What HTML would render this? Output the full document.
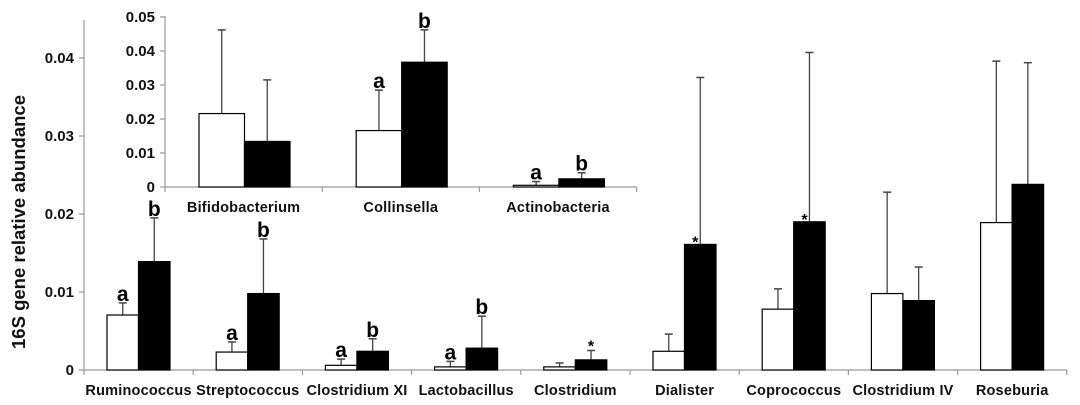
<!DOCTYPE html>
<html><head><meta charset="utf-8"><style>
html,body{margin:0;padding:0;background:#fff;}
svg{display:block;font-family:"Liberation Sans",Arial,sans-serif;font-weight:bold;}
</style></head><body>
<svg id="c" width="1080" height="405" viewBox="0 0 1080 405"></svg>
<script>
const mainCats=["Ruminococcus","Streptococcus","Clostridium XI","Lactobacillus","Clostridium","Dialister","Coprococcus","Clostridium IV","Roseburia"];
const mainWhite=[0.00705,0.0023,0.0006,0.0004,0.0004,0.0024,0.0078,0.0098,0.0189];
const mainWhiteErr=[0.0086,0.0036,0.0014,0.0011,0.0009,0.0046,0.0104,0.0228,0.0396];
const mainBlack=[0.0139,0.0098,0.0024,0.0028,0.0013,0.0161,0.019,0.0089,0.0238];
const mainBlackErr=[0.0195,0.0168,0.004,0.0069,0.0025,0.0375,0.0407,0.0132,0.0394];
const mainWhiteMark=["a","a","a","a","","","","",""];
const mainBlackMark=["b","b","b","b","*","*","*","",""];
const mainMarkAtBar=[false,false,false,false,false,true,true,false,false];
const mainTicks=[0,0.01,0.02,0.03,0.04];
const mainTickLabels=["0","0.01","0.02","0.03","0.04"];
const inCats=["Bifidobacterium","Collinsella","Actinobacteria"];
const inWhite=[0.0216,0.0166,0.0005];
const inWhiteErr=[0.0462,0.0285,0.0016];
const inBlack=[0.0134,0.0367,0.0024];
const inBlackErr=[0.0315,0.0462,0.0042];
const inWhiteMark=["","a","a"];
const inBlackMark=["","b","b"];
const inMarkAtBar=[false,false,false];
const inTicks=[0,0.01,0.02,0.03,0.04,0.05];
const inTickLabels=["0","0.01","0.02","0.03","0.04","0.05"];

const svg=document.getElementById('c');
const NS="http://www.w3.org/2000/svg";
function mk(tag,at,txt){const e=document.createElementNS(NS,tag);for(const k in at)e.setAttribute(k,at[k]);if(txt!==undefined)e.textContent=txt;svg.appendChild(e);return e;}

function drawChart(o){
  const y=v=>o.y0-v*o.pxPer;
  let e=mk('line',{x1:o.x0,y1:o.yTop,x2:o.x0,y2:o.y0,stroke:'#999','stroke-width':1.2});
  
  
  const xEnd=o.x0+o.cats.length*o.step;
  e=mk('line',{x1:o.x0,y1:o.y0,x2:xEnd,y2:o.y0,stroke:'#999','stroke-width':1.2});
  
  
  o.ticks.forEach((t,i)=>{
    mk('line',{x1:o.x0-5,y1:y(t),x2:o.x0,y2:y(t),stroke:'#999','stroke-width':1.2});
    e=mk('text',{x:o.x0-10,y:y(t)+5,'text-anchor':'end','font-size':15,fill:'#111'},o.tickLabels[i]);
    
    
  });
  for(let i=0;i<=o.cats.length;i++){
    mk('line',{x1:o.x0+i*o.step,y1:o.y0,x2:o.x0+i*o.step,y2:o.y0+5,stroke:'#999','stroke-width':1.2});
  }
  o.cats.forEach((c,i)=>{
    const gx=o.x0+i*o.step+o.off;
    const w=o.bw;
    [[o.white,o.wErr,o.wMark,'#fff','white'],[o.black,o.bErr,o.bMark,'#000','black']].forEach((s,k)=>{
      const bx=gx+k*w, v=s[0][i], er=s[1][i], cx=bx+w/2;
      let ln=mk('line',{x1:cx,y1:y(v),x2:cx,y2:y(er),stroke:'#444','stroke-width':1.3});
      
      
      mk('line',{x1:cx-4,y1:y(er),x2:cx+4,y2:y(er),stroke:'#444','stroke-width':1.5});
      let r=mk('rect',{x:bx,y:y(v),width:w,height:Math.max(0,v*o.pxPer),fill:s[3],stroke:'#000','stroke-width':1.2});
      
      
      const m=s[2][i];
      if(m){
        const star=m==='*';
        let tx,ty;
        if(star&&o.atBar[i]){tx=cx-5;ty=y(v)+3;}
        else if(star){tx=cx;ty=y(er)+1;}
        else{tx=cx;ty=y(er)-2;}
        let t=mk('text',{x:tx,y:ty,'text-anchor':'middle','font-size':star?16:21,fill:'#000'},m);
        
        
      }
    });
    let lb=mk('text',{x:o.x0+i*o.step+o.step/2,y:o.y0+25,'text-anchor':'middle','font-size':14.5,'letter-spacing':0.2,fill:'#111'},c);
    
    
  });
}
drawChart({pre:'main-',x0:84,y0:370,yTop:20,pxPer:7800,step:109.2,off:23,bw:31.5,cats:mainCats,white:mainWhite,wErr:mainWhiteErr,black:mainBlack,bErr:mainBlackErr,wMark:mainWhiteMark,bMark:mainBlackMark,atBar:mainMarkAtBar,ticks:mainTicks,tickLabels:mainTickLabels});
drawChart({pre:'inset-',x0:165,y0:187,yTop:16,pxPer:3400,step:157.2,off:34,bw:45.5,cats:inCats,white:inWhite,wErr:inWhiteErr,black:inBlack,bErr:inBlackErr,wMark:inWhiteMark,bMark:inBlackMark,atBar:inMarkAtBar,ticks:inTicks,tickLabels:inTickLabels});
const yt=mk('text',{x:0,y:0,transform:'translate(25,222) rotate(-90)','text-anchor':'middle','font-size':18.5,fill:'#111'},'16S gene relative abundance');


</script>
</body></html>
